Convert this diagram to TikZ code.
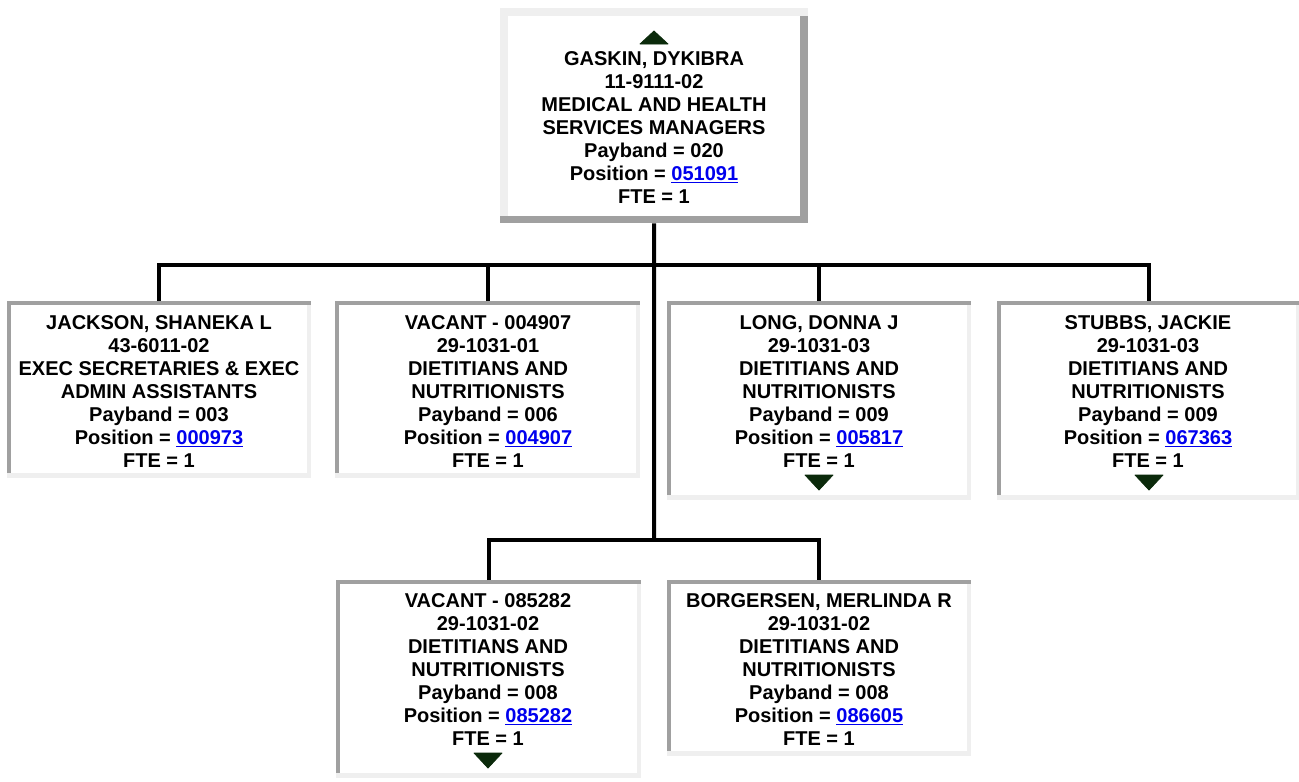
\documentclass[tikz,border=0pt]{standalone}
\usepackage{fontspec}
\setmainfont{Liberation Sans}
\usetikzlibrary{calc}
\definecolor{dk}{HTML}{A0A0A0}
\definecolor{lt}{HTML}{EFEFEF}
\definecolor{linkblue}{HTML}{0000EE}
\definecolor{tri}{HTML}{0B2A0B}
\newcommand\lnk[1]{\textcolor{linkblue}{\underline{#1}}}
\tikzset{
  boxbg/.style={draw=none, fill=white, inner sep=0pt, anchor=north west},
  info/.style={font=\fontsize{20}{23}\selectfont\bfseries, align=center, inner sep=0pt, anchor=north},
  conn/.style={line width=4pt, black},
  tria/.style={fill=tri, draw=tri, line width=0.8pt, line join=round}
}
\begin{document}
\begin{tikzpicture}[x=1pt, y=-1pt]
\useasboundingbox (0,0) rectangle (1299,782);
\fill[white] (0,0) rectangle (1299,782);

% boxes
\node[boxbg, minimum width=308pt, minimum height=215pt] (top) at (500,8) {};
\node[boxbg, minimum width=304pt, minimum height=177pt] (b1) at (7,301) {};
\node[boxbg, minimum width=305pt, minimum height=177pt] (b2) at (335,301) {};
\node[boxbg, minimum width=304pt, minimum height=199pt] (b3) at (667,301) {};
\node[boxbg, minimum width=303pt, minimum height=199pt] (b4) at (997,301) {};
\node[boxbg, minimum width=305pt, minimum height=198pt] (b5) at (336,580) {};
\node[boxbg, minimum width=304pt, minimum height=176pt] (b6) at (667,580) {};

% top box borders (raised)
\fill[lt] (top.north west) rectangle ($(top.north east)+(0,8)$);
\fill[lt] (top.north west) rectangle ($(top.south west)+(8,0)$);
\fill[dk] ($(top.north east)+(-8,8)$) rectangle (top.south east);
\fill[dk] ($(top.south west)+(0,-7)$) rectangle (top.south east);

% child box borders (inset)
\foreach \n in {b1,b2,b3,b4,b5,b6}{
  \fill[lt] ($(\n.north east)+(-4,0)$) rectangle (\n.south east);
  \fill[lt] ($(\n.south west)+(0,-5)$) rectangle (\n.south east);
  \fill[dk] (\n.north west) rectangle ($(\n.north east)+(0,4)$);
  \fill[dk] (\n.north west) rectangle ($(\n.south west)+(4,-5)$);
}

% texts
\node[info] (ttop) at (654,51) {GASKIN, DYKIBRA\\11-9111-02\\MEDICAL AND HEALTH\\SERVICES MANAGERS\\Payband = 020\\Position = \lnk{051091}\\FTE = 1};
\node[info] (t1) at (159,315) {JACKSON, SHANEKA L\\43-6011-02\\EXEC SECRETARIES \& EXEC\\ADMIN ASSISTANTS\\Payband = 003\\Position = \lnk{000973}\\FTE = 1};
\node[info] (t2) at (488,315) {VACANT - 004907\\29-1031-01\\DIETITIANS AND\\NUTRITIONISTS\\Payband = 006\\Position = \lnk{004907}\\FTE = 1};
\node[info] (t3) at (819,315) {LONG, DONNA J\\29-1031-03\\DIETITIANS AND\\NUTRITIONISTS\\Payband = 009\\Position = \lnk{005817}\\FTE = 1};
\node[info] (t4) at (1148,315) {STUBBS, JACKIE\\29-1031-03\\DIETITIANS AND\\NUTRITIONISTS\\Payband = 009\\Position = \lnk{067363}\\FTE = 1};
\node[info] (t5) at (488,593) {VACANT - 085282\\29-1031-02\\DIETITIANS AND\\NUTRITIONISTS\\Payband = 008\\Position = \lnk{085282}\\FTE = 1};
\node[info] (t6) at (819,593) {BORGERSEN, MERLINDA R\\29-1031-02\\DIETITIANS AND\\NUTRITIONISTS\\Payband = 008\\Position = \lnk{086605}\\FTE = 1};

% triangles
\fill[tria] (640,44) -- (668,44) -- (654,31) -- cycle;
\fill[tria] (805,475) -- (833,475) -- (819,490) -- cycle;
\fill[tria] (1135,475) -- (1163,475) -- (1149,490) -- cycle;
\fill[tria] (474,753) -- (502,753) -- (488,768) -- cycle;

% connectors
\coordinate (j1) at (654,265);
\coordinate (j2) at (654,540);
\draw[conn] (top.south) -- (j2);
\draw[conn] (b1.north) -- (b1.north |- j1) -- (b4.north |- j1) -- (b4.north);
\draw[conn] (b2.north) -- (b2.north |- j1);
\draw[conn] (b3.north) -- (b3.north |- j1);
\draw[conn] (b5.north) -- (b5.north |- j2) -- (b6.north |- j2) -- (b6.north);
\end{tikzpicture}
\end{document}
